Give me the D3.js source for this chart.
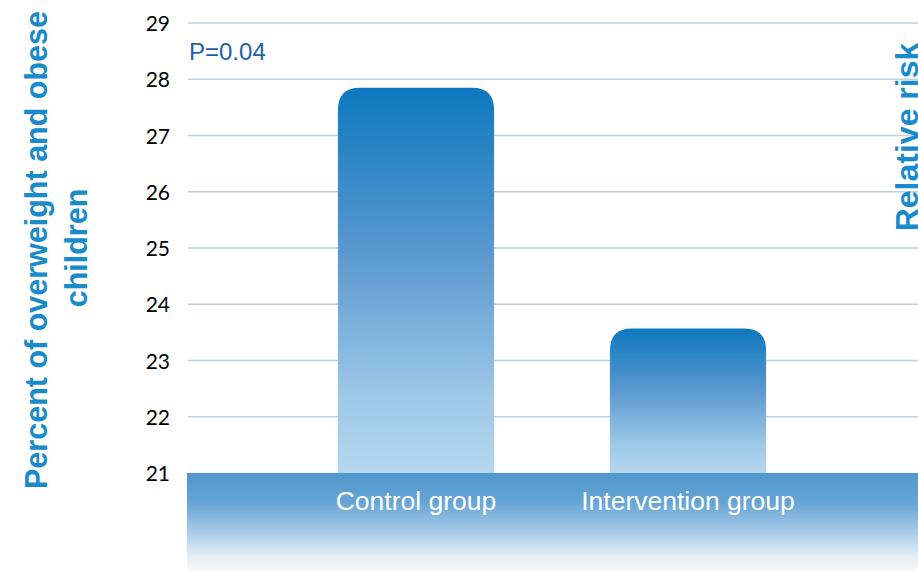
<!DOCTYPE html>
<html><head><meta charset="utf-8">
<script src="https://cdn.jsdelivr.net/npm/d3@7"></script>
<style>html,body{margin:0;padding:0;background:#fff;overflow:hidden}</style>
</head><body>
<svg id="c" width="918" height="571"></svg>
<script>
const categories = ["Control group", "Intervention group"];
const values = [27.85, 23.57];
const yTicks = [21, 22, 23, 24, 25, 26, 27, 28, 29];
const pLabel = "P=0.04";
const yTitle = ["Percent of overweight and obese", "children"];
const rightTitle = "Relative risk";

const svg = d3.select("#c");
const defs = svg.append("defs");

const bg = defs.append("linearGradient").attr("id","barG").attr("x1",0).attr("y1",0).attr("x2",0).attr("y2",1);
[[0,"#0d78be"],[0.45,"#5e9bd0"],[0.8,"#9ec8e7"],[1,"#b4d7ef"]].forEach(s=>bg.append("stop").attr("offset",s[0]).attr("stop-color",s[1]));
const bandG = defs.append("linearGradient").attr("id","bandG").attr("x1",0).attr("y1",0).attr("x2",0).attr("y2",1);
[[0,"#5197cb"],[0.3,"#66a4d5"],[0.6,"#a9cbe8"],[0.85,"#e3eef8"],[1,"#f6f9fc"]].forEach(s=>bandG.append("stop").attr("offset",s[0]).attr("stop-color",s[1]));

const y = d3.scaleLinear().domain([21, 29]).range([473, 23]);
const x = d3.scaleBand().domain(categories).range([280, 824]).paddingInner(0.426).paddingOuter(0.213);

// gridlines
svg.append("g").selectAll("line").data(yTicks.filter(t=>t>21)).join("line")
  .attr("x1",188).attr("x2",918).attr("y1",d=>y(d)).attr("y2",d=>y(d))
  .attr("stroke","#c3cfdc").attr("stroke-width",1.6);

// tick labels
const yAxis = d3.axisLeft(y).tickValues(yTicks).tickSize(0).tickPadding(0).tickFormat(d3.format("d"));
const ag = svg.append("g").attr("transform","translate(170,1)").call(yAxis);
ag.select(".domain").remove();
ag.selectAll("text").attr("font-family","Lato, 'Open Sans', sans-serif").attr("font-size",21).attr("fill","#000");

// bars
function barPath(x0, w, top, bottom, r){
  return `M${x0},${bottom} L${x0},${top+r} Q${x0},${top} ${x0+r},${top} L${x0+w-r},${top} Q${x0+w},${top} ${x0+w},${top+r} L${x0+w},${bottom} Z`;
}
svg.append("g").selectAll("path").data(categories.map((c,i)=>({c,v:values[i]}))).join("path")
  .attr("d",d=>barPath(x(d.c), x.bandwidth(), y(d.v), y(21), 22))
  .attr("fill","url(#barG)");

// bottom band
svg.append("rect").attr("x",187).attr("y",y(21)).attr("width",918-187).attr("height",98).attr("fill","url(#bandG)");

// category labels
svg.append("g").selectAll("text").data(categories).join("text")
  .attr("x",d=>x(d)+x.bandwidth()/2).attr("y",510).attr("text-anchor","middle")
  .attr("font-family","Liberation Sans, Arial, sans-serif").attr("font-size",26.5).attr("fill","#fff")
  .text(d=>d);

// P label
svg.append("text").attr("x",189).attr("y",60).attr("font-family","Liberation Sans, Arial, sans-serif")
  .attr("font-size",24).attr("fill","#1c62a8").text(pLabel);

// y title
svg.append("text").attr("transform","translate(47,250) rotate(-90)").attr("text-anchor","middle")
  .attr("font-family","Liberation Sans, Arial, sans-serif").attr("font-weight","bold").attr("font-size",30.5)
  .attr("fill","#198bcb").text(yTitle[0]);
svg.append("text").attr("transform","translate(87,248) rotate(-90)").attr("text-anchor","middle")
  .attr("font-family","Liberation Sans, Arial, sans-serif").attr("font-weight","bold").attr("font-size",30.5)
  .attr("fill","#198bcb").text(yTitle[1]);

// right title
svg.append("text").attr("transform","translate(918,137) rotate(-90)").attr("text-anchor","middle")
  .attr("font-family","Liberation Sans, Arial, sans-serif").attr("font-weight","bold").attr("font-size",32)
  .attr("fill","#198bcb").text(rightTitle);
</script>
</body></html>
